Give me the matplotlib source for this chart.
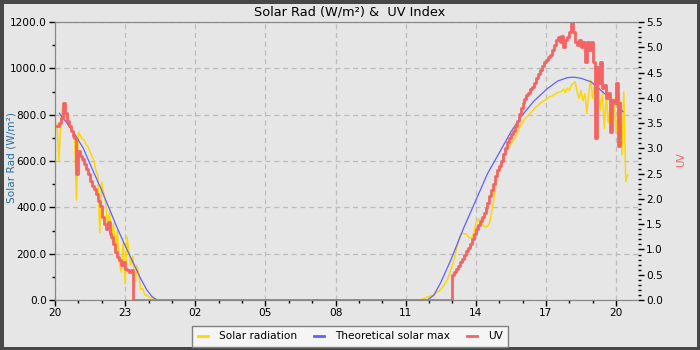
import numpy as np
import matplotlib
matplotlib.use("Agg")
import matplotlib.pyplot as plt
from matplotlib.ticker import MultipleLocator, FormatStrFormatter

# hours counted from 20:00 of the first day
tick_pos = [0, 3, 6, 9, 12, 15, 18, 21, 24]
tick_labels = ["20", "23", "02", "05", "08", "11", "14", "17", "20"]

step = 5 / 60  # archive interval, 5 min

# solar radiation, evening (from 20:05), W/m2
rad_eve_start = step
rad_eve = [760, 600, 780, 841, 800, 770, 750, 745, 730, 720, 432, 725,
           710, 695, 690, 670, 660, 640, 620, 600, 560, 540, 290, 510,
           460, 420, 330, 380, 260, 330, 200, 300, 160, 120, 250, 70,
           273, 200, 150, 190, 60, 150, 110, 45, 50, 25, 20, 15,
           10, 8, 5, 3, 0]
# solar radiation, morning (from 11:40)
rad_day_start = 15 + 40 / 60
rad_day = [2, 5, 8, 12, 15, 18, 22, 27, 32, 38, 45, 55,
           68, 82, 100, 125, 150, 180, 215, 250, 280, 290, 285, 285,
           275, 268, 265, 290, 330, 345, 350, 335, 320, 315, 318, 330,
           375, 420, 480, 545, 565, 590, 610, 625, 645, 660, 675, 685,
           695, 715, 735, 755, 765, 780, 790, 798, 805, 815, 825, 833,
           840, 848, 855, 860, 865, 872, 878, 880, 885, 890, 895, 898,
           900, 912, 895, 915, 905, 925, 935, 942, 900, 870, 905, 860,
           890, 806, 895, 950, 870, 940, 860, 930, 820, 900, 741, 880,
           765, 840, 790, 870, 720, 820, 860, 626, 898, 511, 540]

# theoretical solar max (hour, W/m2)
max_eve_t = [0.19, 0.5, 0.85, 1.21, 1.55, 1.93, 2.3, 2.64, 3.0, 3.36, 3.65, 3.93, 4.15, 4.36]
max_eve_v = [806, 765, 715, 655, 575, 489, 400, 316, 235, 158, 95, 43, 15, 0]
max_day_t = [15.93, 16.2, 16.5, 16.93, 17.5, 18.07, 18.5, 19.07, 19.5, 19.93, 20.5,
             21.07, 21.5, 21.93, 22.2, 22.5, 22.93, 23.5, 24.0, 24.29]
max_day_v = [0, 20, 75, 172, 315, 446, 545, 647, 725, 791, 860,
             913, 945, 960, 962, 957, 942, 892, 849, 813]

# UV index, evening (from 20:05)
uv_eve_start = step
uv_eve = [3.45, 3.5, 3.6, 3.89, 3.7, 3.55, 3.45, 3.35, 3.25, 3.2, 2.5, 2.95,
          2.85, 2.78, 2.7, 2.6, 2.5, 2.35, 2.25, 2.2, 2.1, 1.95, 1.85, 1.65,
          1.5, 1.4, 1.55, 1.3, 1.25, 1.1, 0.95, 0.85, 0.8, 0.7, 0.75, 0.62,
          0.6, 0.55, 0.6, 0.0]
# UV index, morning (from 13:00)
uv_day_start = 17.0
uv_day = [0.5, 0.55, 0.62, 0.68, 0.75, 0.82, 0.9, 0.97, 1.03, 1.1, 1.2, 1.3,
          1.4, 1.48, 1.57, 1.65, 1.72, 1.82, 1.92, 2.05, 2.18, 2.3, 2.45, 2.57,
          2.65, 2.75, 2.88, 3.0, 3.12, 3.2, 3.28, 3.35, 3.45, 3.55, 3.68, 3.8,
          3.9, 3.98, 4.05, 4.1, 4.17, 4.22, 4.3, 4.4, 4.48, 4.55, 4.62, 4.7,
          4.75, 4.8, 4.85, 4.95, 5.05, 5.15, 5.2, 5.1, 5.22, 5.0, 5.15, 5.2,
          5.3, 5.52, 5.3, 5.1, 5.05, 5.15, 5.0, 5.1, 4.71, 5.1, 4.95, 5.1,
          4.7, 3.2, 4.6, 4.3, 4.7, 4.2, 4.25, 4.0, 4.1, 3.33, 3.95, 3.9,
          4.3, 3.05, 3.9]


def series(start, vals):
    t = start + step * np.arange(len(vals))
    return t, np.array(vals, dtype=float)


t1, r1 = series(rad_eve_start, rad_eve)
t2, r2 = series(rad_day_start, rad_day)
rad_t = np.concatenate([t1, [rad_day_start - step], t2])
rad_v = np.concatenate([r1, [0], r2])

u1, v1 = series(uv_eve_start, uv_eve)
u2, v2 = series(uv_day_start, uv_day)
uv_t = np.concatenate([u1, [uv_day_start - step], u2])
uv_v = np.concatenate([v1, [0], v2])

max_t = max_eve_t + [6.0, 15.0] + max_day_t
max_v = max_eve_v + [0, 0] + max_day_v

bg = "#e6e6e6"
c_rad = "#ffd700"
c_max = "#6060ff"
c_uv = "#f46464"

plt.rcParams["font.family"] = "DejaVu Sans"
fig = plt.figure(figsize=(7, 3.5), dpi=100, facecolor=bg,
                 edgecolor="#474747", linewidth=5)
ax = fig.add_axes([55 / 700, 50 / 350, 583 / 700, 278 / 350])
ax.set_facecolor(bg)
ax2 = ax.twinx()

l1, = ax.plot(rad_t, rad_v, color=c_rad, lw=1.1, label="Solar radiation")
l2, = ax.plot(max_t, max_v, color=c_max, lw=0.9, label="Theoretical solar max")
l3, = ax2.plot(uv_t, uv_v, color=c_uv, lw=2.0, label="UV",
               drawstyle="steps-post")
ax.set_zorder(ax2.get_zorder() - 1)
ax2.patch.set_visible(False)

ax.set_xlim(0, 24.94)
ax.set_ylim(0, 1200)
ax2.set_ylim(0, 5.5)
ax.set_xticks(tick_pos)
ax.set_xticklabels(tick_labels)
ax.xaxis.set_minor_locator(MultipleLocator(1))
ax.yaxis.set_major_locator(MultipleLocator(200))
ax.yaxis.set_minor_locator(MultipleLocator(100))
ax.yaxis.set_major_formatter(FormatStrFormatter("%.1f"))
ax2.yaxis.set_major_locator(MultipleLocator(0.5))
ax2.yaxis.set_minor_locator(MultipleLocator(0.1))
ax2.yaxis.set_major_formatter(FormatStrFormatter("%.1f"))

ax.grid(True, which="major", color="#bdbdbd", linestyle=(0, (4, 3)), lw=0.9)
for a in (ax, ax2):
    a.tick_params(which="major", length=4, width=1, labelsize=7.6, pad=2)
    a.tick_params(which="minor", length=2.5, width=1)
    for s in a.spines.values():
        s.set_color("#888888")
    a.spines["right"].set_visible(False)

fig.text(12 / 700, 1 - 157 / 350, "Solar Rad (W/m²)", rotation=90,
         ha="center", va="center", color="#2a6f9e", fontsize=7.6)
fig.text(681 / 700, 1 - 160 / 350, "UV", rotation=90,
         ha="center", va="center", color=c_uv, fontsize=7.6)
fig.text(0.5, 0.967, "Solar Rad (W/m²) &  UV Index", ha="center", va="center",
         fontsize=9.3)

leg = fig.legend(handles=[l1, l2, l3], loc="upper center", ncol=3,
                 bbox_to_anchor=(0.5, 1 - 326 / 350), fontsize=7.6,
                 handlelength=1.0, columnspacing=1.6, handletextpad=1.0,
                 fancybox=False, framealpha=1, borderaxespad=0,
                 borderpad=0.5)
leg.get_frame().set_facecolor("#f5f5f5")
leg.get_frame().set_edgecolor("#808080")
for h in leg.get_lines():
    h.set_linewidth(2)
    h.set_drawstyle("default")

fig.savefig("out.png", dpi=100, facecolor=bg, edgecolor=fig.get_edgecolor())
